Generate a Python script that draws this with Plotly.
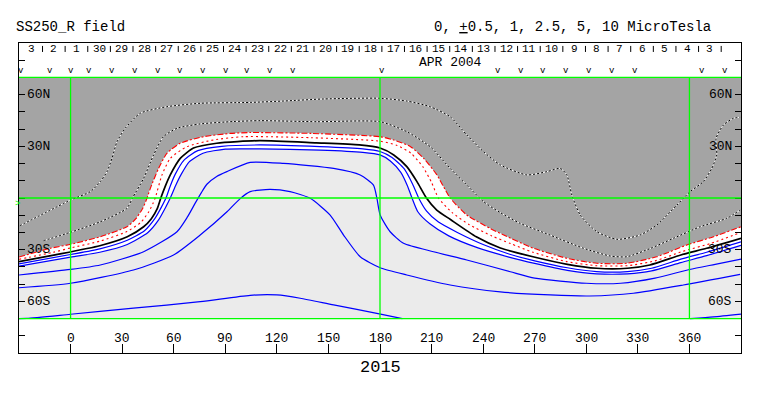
import plotly.graph_objects as go

# ---------------- data ----------------
LON_RANGE = [-30, 390]
LAT_RANGE = [-90, 90]
MAP_LAT = 70
LON_TICKS = [0, 30, 60, 90, 120, 150, 180, 210, 240, 270, 300, 330, 360]
LAT_TICKS = [-80, -70, -60, -50, -40, -30, -20, -10, 0, 10, 20, 30, 40, 50, 60, 70, 80]
LAT_LABELS = {60: "60N", 30: "30N", -30: "30S", -60: "60S"}
GRID_LONS = [0, 180, 360]
GRID_LATS = [-70, 0, 70]

DAY_LABELS = [3, 2, 1, 30, 29, 28, 27, 26, 25, 24, 23, 22, 21, 20, 19, 18, 17,
              16, 15, 14, 13, 12, 11, 10, 9, 8, 7, 6, 5, 4, 3]
DAY_FIRST_LON = -22.9
DAY_STEP_LON = 13.16
V_LONS = [-28.8, -12.2, 0, 10.5, 24.1, 37.2, 50.6, 63.8, 76.8, 90.5, 102.9, 116.1,
          129.1, 181.0, 248.9, 262.1, 275.1, 288.3, 301.7, 314.9, 328.4, 367.2, 380.8]

# contour lines (lon, lat)
NEG5_LINE = [(-29.5, -16.1), (0, -1.2), (11.5, 3.7), (17.3, 9.5), (21.2, 15.3), (24.1, 23),
             (27, 32.7), (31.8, 40.5), (40.5, 49.2), (56, 53), (75.4, 55), (104.5, 55.5),
             (123.9, 56.3), (147.1, 57.5), (180.1, 57.9), (195.6, 56.3), (209.2, 53),
             (220.8, 47.2), (230.5, 36.6), (240.2, 26.9), (250, 19.2), (265.4, 13.4),
             (277.1, 15.3), (284.8, 17.2), (288.7, 13.4), (291.6, 1.7), (296.5, -9.9),
             (306.2, -19.6), (317.8, -24), (331.3, -21.5), (341, -15.7), (352.7, -4.1),
             (360.4, 3.7), (368.1, 9.5), (373, 17.2), (375.9, 25), (375.5, 34.7),
             (379.8, 42.4), (385.6, 46.3), (389.5, 46.9)]
NEG25_LINE = [(-15.7, -24.8), (0, -19.9), (17.3, -13.8), (32.8, -6), (36, 0), (42.5, 11.4),
              (48.3, 25), (54, 35.6), (62, 40.5), (75.4, 43), (94.8, 44.4), (110.3, 44.9),
              (143.3, 44.3), (180.1, 44.3), (195.6, 38.5), (209.2, 29.8), (220.8, 17.2),
              (230.5, 7.5), (240.2, -2.1), (250, -8.5), (261.5, -14.7), (278.9, -21.5),
              (298.4, -29.2), (314, -33.7), (323.6, -34.1), (337.5, -29.2), (350.7, -23.4),
              (366.2, -16.7), (381.7, -11.8), (389.5, -7)]
NEG1_LINE = [(-30, -34.3), (-11.8, -29.2), (0, -26.9), (17.3, -22.5), (32.8, -16.7),
             (38, -12), (42, -6), (44.5, 0), (46.4, 5.6), (51.2, 17.2), (56.1, 26),
             (63.8, 31.8), (77.4, 35.6), (92.9, 37.5), (104.5, 38), (140, 37.5), (180, 35.6),
             (187.9, 33.7), (197.8, 29.8), (205.4, 23), (213.1, 13.4), (220.8, 0),
             (230.5, -9.9), (244, -17.6), (252, -21.5), (269.3, -29.2), (288.7, -35),
             (306.2, -37.9), (323.6, -37.9), (341, -34.1), (358.5, -27.3), (374, -22.5),
             (390, -16.7)]
NEG05_LINE = [(-30, -35.6), (-10, -31.5), (0, -29), (17.3, -25), (32.8, -19.5), (41, -14),
              (45.5, -8), (48, -3), (49.3, 0.2), (53.2, 13.4), (58, 23), (67.7, 29.8),
              (83.2, 33.7), (100.6, 35.6), (140, 35), (180, 33), (190, 30.5), (198, 26),
              (205, 18), (210, 9), (214, 0), (222, -8.5), (232, -15.5), (245, -22),
              (256, -26.5), (269, -31.5), (289, -37), (306, -39.3), (324, -39.3),
              (340, -36.5), (356, -31), (372, -26.5), (390, -20)]
ZERO_LINE = [(-30, -37), (-9, -33), (17, -27.7), (33, -22.5), (42.5, -16.7), (47, -12),
             (50.5, -6), (52.5, 0), (55, 6.6), (58, 13.4), (63.8, 23), (71.5, 29),
             (85, 31.8), (110, 33.3), (143, 32), (168, 30.8), (180, 29), (188, 25),
             (195.6, 18.2), (201.5, 9.5), (207, 0), (213, -7), (221, -12.5), (236, -22.5),
             (250, -29), (269, -34.1), (289, -38.5), (306, -40.8), (324, -40.8),
             (337, -38.9), (355, -33.1), (370, -29.2), (390, -23.4)]
POS05_LINE = [(-30, -38.2), (0, -32.8), (17, -29.5), (33, -24.5), (43, -19), (49, -12),
              (53, -5), (55.5, 0), (58, 7), (61, 14), (66, 22), (74, 27.5), (88, 30),
              (110, 30.8), (145, 29.8), (170, 28.5), (180, 27), (187, 23.5), (194, 17),
              (199, 8), (202.5, 0), (207, -7.5), (214, -14), (225, -20), (240, -27),
              (255, -32.5), (270, -36.5), (289, -40.5), (306, -42.7), (324, -42.7),
              (338, -40.8), (355, -35.5), (370, -31.5), (390, -25.5)]
POS1_LINE = [(-30, -39.6), (0, -34.3), (17, -31.5), (33, -27), (45, -20), (51, -13),
             (55.5, -5), (58, 0), (61, 7), (64.5, 14), (69, 21), (77, 26), (90, 28.4),
             (110, 28.5), (145, 27.8), (170, 26.5), (180, 25), (186, 21.5), (192, 15),
             (196, 7), (198.6, 0), (202, -8), (209, -15), (220, -22), (237, -29),
             (255, -34.3), (270, -38), (289, -42), (306, -44), (324, -44), (338, -42.3),
             (355, -37.5), (370, -33.5), (390, -27.5)]
POS25_LINE = [(-30, -44.7), (0, -41.5), (17.3, -38.9), (42.5, -31.2), (61.9, -19.6),
              (68, -11), (72.5, -3), (76, 3), (79.3, 8), (85, 12.5), (90.9, 15.3),
              (104.5, 20.7), (123.9, 20.1), (153, 17.2), (168.5, 13.4), (176.2, 7.5),
              (178.2, -0.2), (180.1, -9.9), (185.9, -19.6), (193.7, -26.3), (211.1, -31.2),
              (230.5, -36), (255.8, -42.8), (270, -46.5), (300, -49.5), (320, -49.5),
              (340, -46.5), (360, -41.5), (375, -38.5), (390, -35.5)]
POS5_LINE = [(-30, -52.1), (0, -49.5), (36.6, -41.8), (59.9, -33.1), (75.4, -21.5),
             (91, -8), (98.8, -0.2), (104.5, 3.7), (116, 5), (127.7, 3.7), (139.4, -0.2),
             (151, -9.9), (158.8, -21.5), (168.5, -34.1), (180.1, -40.5), (195.6, -44.7),
             (220.8, -50.5), (250, -54.5), (279, -56.3), (302, -56.9), (327.4, -55.3),
             (356.5, -50.5), (389.5, -44.3)]
POS10_LINE = [(-30, -70), (-25.4, -69.9), (0, -67.5), (36.6, -64), (75.4, -60.2),
              (104.5, -56.5), (120, -56.3), (133.6, -58.2), (153, -62.1), (180.3, -67.4),
              (193, -70), None, (360.4, -70), (374, -69), (390, -67.4)]

# ---------------- styling ----------------
DARK = "#a4a4a4"
LIGHT = "#ebebeb"
GREEN = "#00ff00"
BLUE = "#0000ff"
RED = "#ff0000"
FONT = "Liberation Mono, DejaVu Sans Mono, monospace"

BODY = 8                      # default page margin around the figure
W, H = 763 - 2 * BODY, 396 - 2 * BODY
REF_PL, REF_PT, PW, PH = 19, 43, 722, 310   # plot box in window pixels
PL, PT = REF_PL - BODY, REF_PT - BODY


def px_x(px):
    return (px - REF_PL) / PW


def px_y(py):
    return (REF_PT + PH - py) / PH


def unzip(pts):
    xs = [p[0] if p is not None else None for p in pts]
    ys = [p[1] if p is not None else None for p in pts]
    return xs, ys


fig = go.Figure()


def add_line(pts, color, width=1.0, dash="solid", fill=None, fillcolor=None):
    xs, ys = unzip(pts)
    fig.add_trace(go.Scatter(
        x=xs, y=ys, mode="lines",
        line=dict(color=color, width=width, dash=dash, shape="spline", smoothing=0.6),
        fill=fill, fillcolor=fillcolor, hoverinfo="skip", showlegend=False,
        connectgaps=False))


# fills: dark region above -1 line, white band between -1 and +1
add_line([(LON_RANGE[0], MAP_LAT), (LON_RANGE[1], MAP_LAT)], "rgba(0,0,0,0)", width=0)
add_line(NEG1_LINE, "rgba(0,0,0,0)", width=0, fill="tonexty", fillcolor=DARK)
add_line(POS1_LINE, "rgba(0,0,0,0)", width=0)
add_line(NEG1_LINE, "rgba(0,0,0,0)", width=0, fill="tonexty", fillcolor="white")

# negative contours (black/white dotted)
for pts in (NEG5_LINE, NEG25_LINE):
    add_line(pts, "white", 1.0)
    add_line(pts, "black", 1.0, dash="2px,2px")
add_line(NEG1_LINE, RED, 1.1, dash="6px,2px,2px,2px")
add_line(NEG05_LINE, RED, 1.1, dash="2px,3px")
add_line(ZERO_LINE, "black", 1.7)
for pts in (POS05_LINE, POS1_LINE, POS25_LINE, POS5_LINE, POS10_LINE):
    add_line(pts, BLUE, 1.2)

shapes = []
# map background
shapes.append(dict(type="rect", xref="x", yref="y", x0=LON_RANGE[0], x1=LON_RANGE[1],
                   y0=-MAP_LAT, y1=MAP_LAT, fillcolor=LIGHT, line=dict(width=0), layer="below"))
# green grid lines
for lon in GRID_LONS:
    shapes.append(dict(type="line", xref="x", yref="y", x0=lon, x1=lon, y0=-MAP_LAT, y1=MAP_LAT,
                       line=dict(color=GREEN, width=1.3), layer="above"))
for lat in GRID_LATS:
    shapes.append(dict(type="line", xref="x", yref="y", x0=LON_RANGE[0], x1=LON_RANGE[1],
                       y0=lat, y1=lat, line=dict(color=GREEN, width=1.3), layer="above"))
# day separators in header
for k in range(len(DAY_LABELS)):
    sx = DAY_FIRST_LON + DAY_STEP_LON * (k + 0.5)
    shapes.append(dict(type="line", xref="x", yref="y", x0=sx, x1=sx, y0=84.8, y1=88.3,
                       line=dict(color="black", width=1), layer="above"))

ann = []
ann.append(dict(text="SS250_R field", xref="paper", yref="paper", x=px_x(14), y=px_y(27),
                xanchor="left", yanchor="middle", showarrow=False,
                font=dict(family=FONT, size=14, color="black")))
ann.append(dict(text='0, <span style="text-decoration:underline">+</span>0.5, 1, 2.5, 5, 10 MicroTesla',
                xref="paper", yref="paper", x=px_x(713), y=px_y(27),
                xanchor="right", yanchor="middle", showarrow=False,
                font=dict(family=FONT, size=14, color="black")))
for k, d in enumerate(DAY_LABELS):
    ann.append(dict(text=str(d), xref="x", yref="y", x=DAY_FIRST_LON + DAY_STEP_LON * k, y=86.5,
                    xanchor="center", yanchor="middle", showarrow=False,
                    font=dict(family=FONT, size=11, color="black")))
for v in V_LONS:
    ann.append(dict(text="v", xref="x", yref="y", x=v, y=73.6, xanchor="center", yanchor="middle",
                    showarrow=False, font=dict(family=FONT, size=9, color="black")))
ann.append(dict(text="APR 2004", xref="x", yref="y", x=221, y=78.9, xanchor="center",
                yanchor="middle", showarrow=False, font=dict(family=FONT, size=13, color="black")))
for lon in LON_TICKS:
    ann.append(dict(text=str(lon), xref="x", yref="y", x=lon, y=-81.5, xanchor="center",
                    yanchor="middle", showarrow=False, font=dict(family=FONT, size=13, color="black")))
for lat, lab in LAT_LABELS.items():
    ann.append(dict(text=lab, xref="x", yref="y", x=-26.3, y=lat, xanchor="left", yanchor="middle",
                    showarrow=False, font=dict(family=FONT, size=13, color="black")))
    ann.append(dict(text=lab, xref="x", yref="y", x=386.2, y=lat, xanchor="right", yanchor="middle",
                    showarrow=False, font=dict(family=FONT, size=13, color="black")))
ann.append(dict(text="2015", xref="paper", yref="paper", x=px_x(380), y=px_y(367),
                xanchor="center", yanchor="middle", showarrow=False,
                font=dict(family=FONT, size=17, color="black")))
ann.append(dict(text="&gt;", xref="paper", yref="y", x=px_x(17), y=-3.7, xanchor="center",
                yanchor="middle", showarrow=False, font=dict(family=FONT, size=9, color=GREEN)))

fig.update_layout(
    width=W, height=H, autosize=False,
    margin=dict(l=PL, r=W - PL - PW, t=PT, b=H - PT - PH, pad=0),
    paper_bgcolor="white", plot_bgcolor="white",
    shapes=shapes, annotations=ann, showlegend=False,
    xaxis=dict(range=LON_RANGE, showgrid=False, zeroline=False, showline=True, mirror=True,
               linecolor="black", linewidth=1, ticks="inside", ticklen=9, tickcolor="black",
               tickvals=LON_TICKS, showticklabels=False, fixedrange=True),
    yaxis=dict(range=LAT_RANGE, showgrid=False, zeroline=False, showline=True, mirror="ticks",
               linecolor="black", linewidth=1, ticks="inside", ticklen=6, tickcolor="black",
               tickvals=LAT_TICKS, showticklabels=False, fixedrange=True),
)

fig.write_html("out.html")
